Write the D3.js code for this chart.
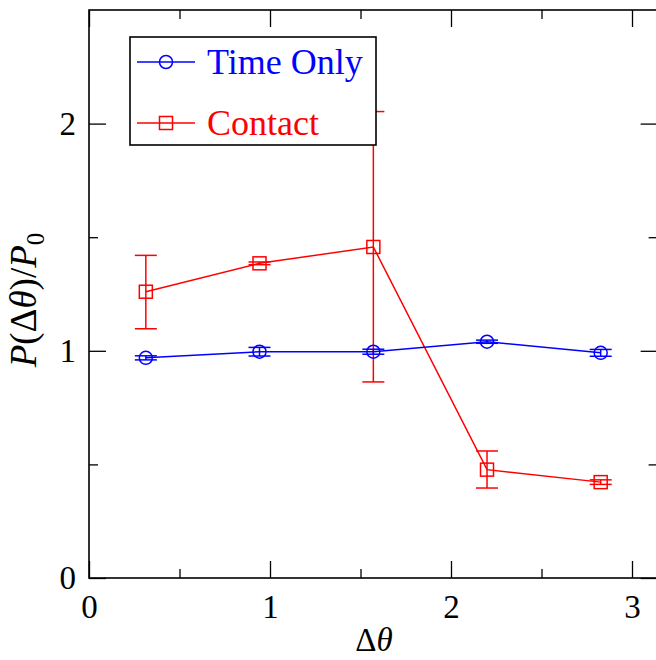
<!DOCTYPE html>
<html>
<head>
<meta charset="utf-8">
<script src="https://d3js.org/d3.v7.min.js"></script>
<style>
  body { margin: 0; background: #fff; }
  svg text { font-family: "Liberation Serif", "Times New Roman", serif; }
</style>
</head>
<body>
<svg class="chart" width="656" height="660"></svg>
<script>
// angles are multiples of pi/10
var angles = [0.314, 0.942, 1.571, 2.199, 2.827];

var timeOnly = [0.969, 0.996, 0.996, 1.040, 0.991];
var timeOnlyLo = [0.960, 0.977, 0.985, 1.033, 0.976];
var timeOnlyHi = [0.978, 1.015, 1.007, 1.047, 1.006];

var contact = [1.260, 1.385, 1.457, 0.477, 0.422];
var contactLo = [1.097, 1.379, 0.863, 0.396, 0.412];
var contactHi = [1.420, 1.391, 2.053, 0.559, 0.432];

var xMajor = [0, 1, 2, 3];
var xMinor = [0.5, 1.5, 2.5];
var yMajor = [0, 1, 2];
var yMinor = [0.5, 1.5];

var legendNames = ["Time Only", "Contact"];

var svg = d3.select(".chart");
var plotLeft = 89, plotTop = 10, plotBottom = 578;

var xScale = d3.scaleLinear().domain([0, Math.PI]).range([plotLeft, plotLeft + 181 * Math.PI]);
var yScale = d3.scaleLinear().domain([0, 2.5]).range([plotBottom, plotTop]);
var plotRight = xScale.range()[1];

var major = 17, minor = 9;

// frame
svg.append("rect")
    .attr("x", plotLeft).attr("y", plotTop)
    .attr("width", plotRight - plotLeft).attr("height", plotBottom - plotTop)
    .attr("fill", "none").attr("stroke", "#000").attr("stroke-width", 1.6);

function ticks(axis, vals, size, labels) {
    return axis.tickValues(vals).tickSizeInner(-size).tickSizeOuter(0)
        .tickFormat(labels ? d3.format("d") : "");
}

function styleAxis(g) {
    g.select(".domain").remove();
    g.selectAll("line").attr("stroke", "#000").attr("stroke-width", 1.3);
    g.selectAll("text").attr("font-size", 33).attr("fill", "#000")
        .attr("font-family", "Liberation Serif, serif");
}

// bottom
svg.append("g").attr("transform", "translate(0," + plotBottom + ")")
    .call(ticks(d3.axisBottom(xScale), xMajor, major, true).tickPadding(17))
    .call(styleAxis);
svg.append("g").attr("transform", "translate(0," + plotBottom + ")")
    .call(ticks(d3.axisBottom(xScale), xMinor, minor, false)).call(styleAxis);
// top
svg.append("g").attr("transform", "translate(0," + plotTop + ")")
    .call(ticks(d3.axisTop(xScale), xMajor, major, false)).call(styleAxis);
svg.append("g").attr("transform", "translate(0," + plotTop + ")")
    .call(ticks(d3.axisTop(xScale), xMinor, minor, false)).call(styleAxis);
// left
svg.append("g").attr("transform", "translate(" + plotLeft + ",0)")
    .call(ticks(d3.axisLeft(yScale), yMajor, major, true).tickPadding(13))
    .call(styleAxis);
svg.append("g").attr("transform", "translate(" + plotLeft + ",0)")
    .call(ticks(d3.axisLeft(yScale), yMinor, minor, false)).call(styleAxis);
// right
svg.append("g").attr("transform", "translate(" + plotRight + ",0)")
    .call(ticks(d3.axisRight(yScale), yMajor, major, false)).call(styleAxis);
svg.append("g").attr("transform", "translate(" + plotRight + ",0)")
    .call(ticks(d3.axisRight(yScale), yMinor, minor, false)).call(styleAxis);

// axis titles
svg.append("text")
    .attr("x", 374).attr("y", 651)
    .attr("text-anchor", "middle").attr("font-size", 33)
    .html('Δ<tspan font-style="italic">θ</tspan>');

svg.append("text")
    .attr("transform", "translate(36,300) rotate(-90)")
    .attr("text-anchor", "middle").attr("font-size", 37)
    .html('<tspan font-style="italic">P</tspan>(Δ<tspan font-style="italic">θ</tspan>)/<tspan font-style="italic">P</tspan><tspan font-size="25" dy="8">0</tspan>');

var cap = 11;

function drawSeries(vals, lo, hi, color, shape) {
    var g = svg.append("g").attr("stroke", color).attr("fill", "none").attr("stroke-width", 1.5);

    var line = d3.line()
        .x(function(d, i) { return xScale(angles[i]); })
        .y(function(d) { return yScale(d); });
    g.append("path").attr("d", line(vals));

    angles.forEach(function(a, i) {
        var x = xScale(a);
        g.append("line").attr("x1", x).attr("x2", x)
            .attr("y1", yScale(lo[i])).attr("y2", yScale(hi[i]));
        [lo[i], hi[i]].forEach(function(v) {
            g.append("line").attr("x1", x - cap).attr("x2", x + cap)
                .attr("y1", yScale(v)).attr("y2", yScale(v));
        });
        drawMarker(g, x, yScale(vals[i]), shape);
    });
}

function drawMarker(g, x, y, shape) {
    if (shape === "circle") {
        g.append("circle").attr("cx", x).attr("cy", y).attr("r", 6.5);
    } else {
        g.append("rect").attr("x", x - 6.5).attr("y", y - 6.5)
            .attr("width", 13).attr("height", 13);
    }
}

drawSeries(contact, contactLo, contactHi, "#ff0000", "square");
drawSeries(timeOnly, timeOnlyLo, timeOnlyHi, "#0000ff", "circle");

// legend
var legend = svg.append("g");
legend.append("rect")
    .attr("x", 130).attr("y", 37).attr("width", 246).attr("height", 108)
    .attr("fill", "#fff").attr("stroke", "#000").attr("stroke-width", 1.6);

var legendColors = ["#0000ff", "#ff0000"];
var legendShapes = ["circle", "square"];
var rowY = [62, 123];

legendNames.forEach(function(name, i) {
    var g = legend.append("g").attr("stroke", legendColors[i])
        .attr("fill", "none").attr("stroke-width", 1.5);
    g.append("line").attr("x1", 137).attr("x2", 195)
        .attr("y1", rowY[i]).attr("y2", rowY[i]);
    drawMarker(g, 166, rowY[i], legendShapes[i]);
    legend.append("text")
        .attr("x", 207).attr("y", rowY[i] + 12)
        .attr("font-size", 36).attr("fill", legendColors[i])
        .text(name);
});
</script>
</body>
</html>
